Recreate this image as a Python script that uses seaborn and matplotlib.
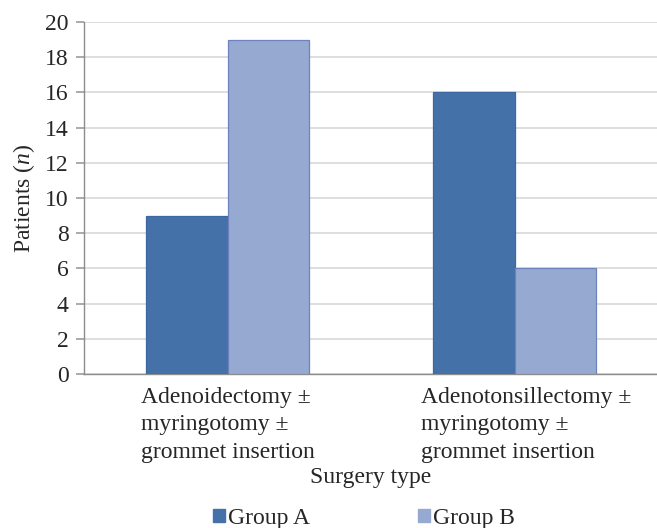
import matplotlib
matplotlib.use("Agg")
import matplotlib.pyplot as plt
import matplotlib.transforms as mtransforms
import seaborn as sns
import pandas as pd
from matplotlib.patches import Patch

# Data
surgery_types = [
    "Adenoidectomy \u00b1\nmyringotomy \u00b1\ngrommet insertion",
    "Adenotonsillectomy \u00b1\nmyringotomy \u00b1\ngrommet insertion",
]
groups = ["Group A", "Group B"]
group_a = [9, 16]
group_b = [19, 6]
y_ticks = [0, 2, 4, 6, 8, 10, 12, 14, 16, 18, 20]

df = pd.DataFrame({
    "Surgery type": surgery_types * 2,
    "Group": [groups[0]] * 2 + [groups[1]] * 2,
    "Patients": group_a + group_b,
})

sns.set_theme(style="white")
plt.rcParams["font.family"] = ["Liberation Serif", "DejaVu Serif"]
plt.rcParams["mathtext.fontset"] = "custom"
plt.rcParams["mathtext.it"] = "Liberation Serif:italic"
plt.rcParams["mathtext.rm"] = "Liberation Serif"

FS = 17
fill_colors = {"Group A": "#4472a8", "Group B": "#95a9d1"}
edge_colors = {"Group A": "#3d67a0", "Group B": "#6e82c0"}

fig = plt.figure(figsize=(6.57, 5.28), dpi=100)
ax = fig.add_axes([84 / 657, 1 - 374 / 528, 574 / 657, 352 / 528])

sns.barplot(
    data=df, x="Surgery type", y="Patients", hue="Group",
    palette=fill_colors, saturation=1, width=0.57, ax=ax, legend=False, zorder=3,
)
for container, g in zip(ax.containers, groups):
    for bar in container:
        bar.set_edgecolor(edge_colors[g])
        bar.set_linewidth(0.9)

ax.set_ylim(0, 20)
ax.set_xlim(-0.5, 1.5)
ax.set_yticks(y_ticks)
ax.set_yticklabels([str(t) for t in y_ticks], fontsize=FS)
ax.yaxis.grid(True, color="#d4d4d4", linewidth=1.1, zorder=0)
ax.set_axisbelow(True)

# Category labels between the category boundary ticks
ax.set_xticks([0, 1])
ax.set_xticklabels(surgery_types, fontsize=FS, linespacing=1.42,
                   multialignment="left")
ax.tick_params(axis="x", length=0, pad=9)
ax.set_xticks([-0.5, 0.5, 1.5], minor=True)
ax.tick_params(axis="x", which="minor", length=6, color="#a0a0a0", direction="out")
ax.tick_params(axis="y", length=6, color="#a0a0a0", direction="out", pad=5,
               left=True)

# nudge the second category label slightly to the right
second = ax.get_xticklabels()[1]
second.set_transform(second.get_transform()
                     + mtransforms.ScaledTranslation(0.12, 0, fig.dpi_scale_trans))

for side in ["top", "right"]:
    ax.spines[side].set_visible(False)
for side in ["left", "bottom"]:
    ax.spines[side].set_color("#8c8c8c")
    ax.spines[side].set_linewidth(1.0)

ax.set_ylabel("Patients ($\\mathit{n}$)", fontsize=FS, labelpad=6)
ax.set_xlabel("Surgery type", fontsize=FS, labelpad=3)

handles = [Patch(facecolor=fill_colors[g], edgecolor=fill_colors[g]) for g in groups]
fig.legend(handles, groups, loc="lower center", bbox_to_anchor=(0.554, -0.042),
           ncol=2, frameon=False, fontsize=FS, handlelength=0.5,
           handleheight=0.5, handletextpad=0.15, columnspacing=4.55)

fig.savefig("out.png", dpi=100)
